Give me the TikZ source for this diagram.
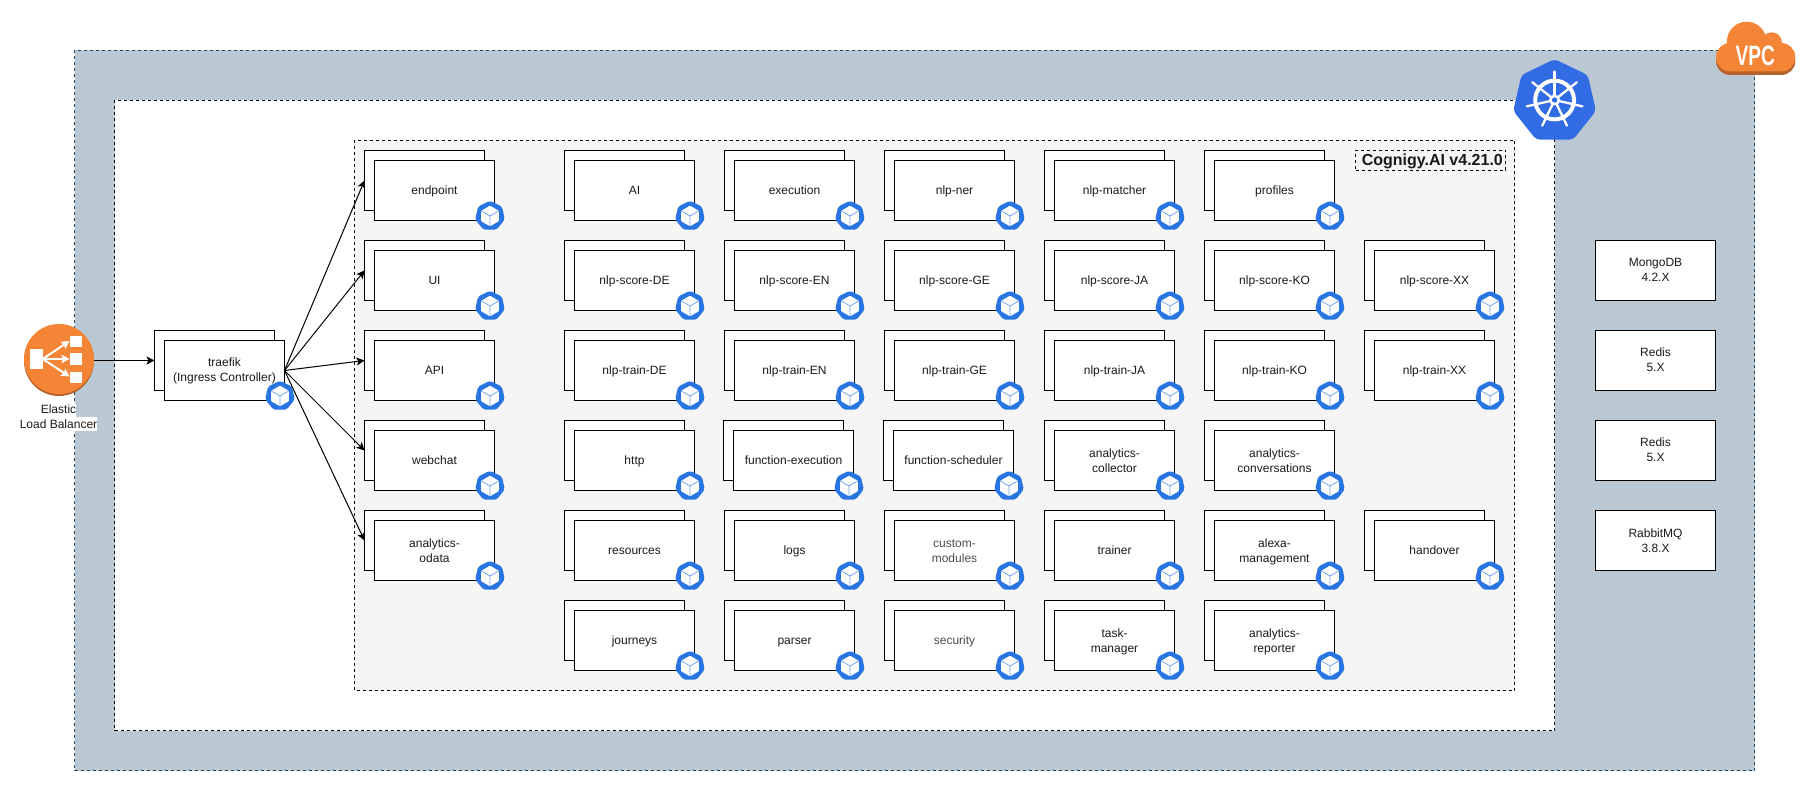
\documentclass[tikz,border=0pt]{standalone}
\usepackage{fontspec}
\usepackage{graphicx}
\setmainfont{Liberation Sans}
\usetikzlibrary{arrows.meta}
\definecolor{vpcfill}{HTML}{BAC8D3}
\definecolor{vpcline}{HTML}{23445D}
\definecolor{panel}{HTML}{F5F5F5}
\definecolor{awsorange}{HTML}{F58536}
\definecolor{awsdark}{HTML}{B7622A}
\definecolor{kubesmall}{HTML}{2875E2}
\definecolor{kubebig}{HTML}{326CE5}
\definecolor{ink}{HTML}{1A1A1A}
\definecolor{mutedink}{HTML}{4D4D4D}
\tikzset{
  stackbox/.style={draw=black,fill=white,line width=1pt,inner sep=0pt,outer sep=0pt,
    minimum width=120pt,minimum height=60pt,anchor=north west,align=center,
    font=\fontsize{12}{15}\selectfont,text=ink},
  zone/.style={line width=1pt,dash pattern=on 3pt off 3pt},
  conn/.style={draw=black,line width=1pt,-{Stealth[length=8pt,width=8pt,inset=2pt]}},
  elbarrow/.style={draw=white,line width=2pt,-{Stealth[length=8pt,width=8.5pt,inset=1.5pt]}},
  freelabel/.style={align=center,inner sep=0pt,font=\fontsize{12}{15}\selectfont,text=ink}
}
\newcommand\boxtext[1]{\rule{0pt}{10.5pt}#1\rule[-2.5pt]{0pt}{2.5pt}}
\newcommand\heptpath[1]{(90:#1pt) -- (141.43:#1pt) -- (192.86:#1pt) -- (244.29:#1pt) -- (295.71:#1pt) -- (347.14:#1pt) -- (38.57:#1pt) -- cycle}
\newcommand\kubeicon[2]{%
  \begin{scope}[shift={(#1,#2)}]
    \fill[kubesmall,rounded corners=2pt] \heptpath{15.2};
    \fill[white,rounded corners=0.8pt] (90:10.3pt) -- (150:10.3pt) -- (210:10.3pt) -- (270:10.3pt) -- (330:10.3pt) -- (30:10.3pt) -- cycle;
    \draw[kubesmall!70,line width=0.7pt] (150:10.3pt) -- (0,0) -- (30:10.3pt) (0,0) -- (270:10.3pt);
  \end{scope}}
\newcommand\svc[5]{%
  \node[stackbox] (#1b) at (#2,#3) {};
  \node[stackbox,text=#5] (#1) at (#2+10,#3+10) {\boxtext{#4}};
  \kubeicon{#2+125.5}{#3+65.5}}
\begin{document}
\begin{tikzpicture}[x=1pt,y=-1pt]
\useasboundingbox (0,0) rectangle (1816,791);
% containers
\fill[white] (0,0) rectangle (1816,791);
\filldraw[zone,fill=vpcfill,draw=vpcline] (74.5,50.5) rectangle (1754.5,770.5);
\filldraw[zone,fill=white,draw=black] (114.5,100.5) rectangle (1554.5,730.5);
\filldraw[zone,fill=panel,draw=black] (354.5,140.5) rectangle (1514.5,690.5);
\node[zone,draw=black,inner sep=0pt,outer sep=0pt,minimum width=150pt,minimum height=20pt,font=\bfseries\fontsize{16}{18}\selectfont,text=ink] (title) at (1430.5,160.5) {\hspace*{3.6pt}\rule{0pt}{13pt}Cognigy.AI v4.21.0\rule[-3.5pt]{0pt}{3.5pt}};
% services
\svc{endpoint}{364.5}{150.5}{endpoint}{ink}
\svc{ai}{564.5}{150.5}{AI}{ink}
\svc{execution}{724.5}{150.5}{execution}{ink}
\svc{nlpner}{884.5}{150.5}{nlp-ner}{ink}
\svc{nlpmatcher}{1044.5}{150.5}{nlp-matcher}{ink}
\svc{profiles}{1204.5}{150.5}{profiles}{ink}
\svc{ui}{364.5}{240.5}{UI}{ink}
\svc{scorede}{564.5}{240.5}{nlp-score-DE}{ink}
\svc{scoreen}{724.5}{240.5}{nlp-score-EN}{ink}
\svc{scorege}{884.5}{240.5}{nlp-score-GE}{ink}
\svc{scoreja}{1044.5}{240.5}{nlp-score-JA}{ink}
\svc{scoreko}{1204.5}{240.5}{nlp-score-KO}{ink}
\svc{scorexx}{1364.5}{240.5}{nlp-score-XX}{ink}
\svc{api}{364.5}{330.5}{API}{ink}
\svc{trainde}{564.5}{330.5}{nlp-train-DE}{ink}
\svc{trainen}{724.5}{330.5}{nlp-train-EN}{ink}
\svc{trainge}{884.5}{330.5}{nlp-train-GE}{ink}
\svc{trainja}{1044.5}{330.5}{nlp-train-JA}{ink}
\svc{trainko}{1204.5}{330.5}{nlp-train-KO}{ink}
\svc{trainxx}{1364.5}{330.5}{nlp-train-XX}{ink}
\svc{webchat}{364.5}{420.5}{webchat}{ink}
\svc{http}{564.5}{420.5}{http}{ink}
\svc{fnexec}{723.5}{420.5}{function-execution}{ink}
\svc{fnsched}{883.5}{420.5}{function-scheduler}{ink}
\svc{anacoll}{1044.5}{420.5}{analytics-\\collector}{ink}
\svc{anaconv}{1204.5}{420.5}{analytics-\\conversations}{ink}
\svc{odata}{364.5}{510.5}{analytics-\\odata}{ink}
\svc{resources}{564.5}{510.5}{resources}{ink}
\svc{logs}{724.5}{510.5}{logs}{ink}
\svc{custom}{884.5}{510.5}{custom-\\modules}{mutedink}
\svc{trainer}{1044.5}{510.5}{trainer}{ink}
\svc{alexa}{1204.5}{510.5}{alexa-\\management}{ink}
\svc{handover}{1364.5}{510.5}{handover}{ink}
\svc{journeys}{564.5}{600.5}{journeys}{ink}
\svc{parser}{724.5}{600.5}{parser}{ink}
\svc{security}{884.5}{600.5}{security}{mutedink}
\svc{taskmgr}{1044.5}{600.5}{task-\\manager}{ink}
\svc{anarep}{1204.5}{600.5}{analytics-\\reporter}{ink}
% traefik
\svc{traefik}{154.5}{330.5}{traefik\\(Ingress Controller)}{ink}
% data stores
\node[stackbox] (mongo) at (1595.5,240.5) {\boxtext{MongoDB\\4.2.X}};
\node[stackbox] (redisa) at (1595.5,330.5) {\boxtext{Redis\\5.X}};
\node[stackbox] (redisb) at (1595.5,420.5) {\boxtext{Redis\\5.X}};
\node[stackbox] (rabbit) at (1595.5,510.5) {\boxtext{RabbitMQ\\3.8.X}};
% connectors
\foreach \t in {endpoint,ui,api,webchat,odata}
  \draw[conn] (traefik.east) -- (\t b.west);
% ELB
\fill[awsdark] (59,361) circle (35pt);
\fill[awsorange] (59,359) circle (35pt);
\fill[white] (30,349) rectangle (42.7,369);
\fill[white] (70,335.7) rectangle (81.7,347.3);
\fill[white] (70,353.3) rectangle (81.7,365);
\fill[white] (70,371.7) rectangle (81.7,383.3);
\coordinate (elbfan) at (42.7,359);
\coordinate (elbA) at (69.5,341);
\coordinate (elbB) at (69.5,359);
\coordinate (elbC) at (69.5,376.5);
\draw[elbarrow] (elbfan) -- (elbA);
\draw[elbarrow] (elbfan) -- (elbB);
\draw[elbarrow] (elbfan) -- (elbC);
\coordinate (elbout) at (94,360.5);
\draw[conn] (elbout) -- (traefikb.west);
\fill[white] (40,404) rectangle (76,416.7);
\fill[white] (20,416.7) rectangle (97,431);
\node[freelabel] (elblabel) at (58.5,417) {\boxtext{Elastic\\Load Balancer}};
% Kubernetes
\begin{scope}[shift={(1554.6,101.5)}]
  \fill[kubebig,rounded corners=4pt] \heptpath{42.4};
\end{scope}
\begin{scope}[shift={(1554.6,100)}]
  \draw[white,line width=4pt] (0,0) circle (19.4pt);
  \foreach \a in {90,141.43,192.86,244.29,295.71,347.14,38.57}
    \draw[white,line width=2.3pt,line cap=round] (\a:3pt) -- (\a:28.5pt);
  \fill[white] (0,0) circle (5.5pt);
  \fill[kubebig] (0,0) circle (2.7pt);
\end{scope}
% VPC cloud
\begin{scope}[shift={(0,3.5)}]
  \fill[awsdark,rounded corners=14pt] (1716,44) rectangle (1795.3,71.5);
\end{scope}
\fill[awsorange,rounded corners=14pt] (1716,43) rectangle (1795.3,71.5);
\fill[awsorange] (1746.7,41.5) circle (19.8pt);
\fill[awsorange] (1771.7,42.5) circle (10.2pt);
\node[inner sep=0pt,text=white,font=\bfseries\fontsize{28}{28}\selectfont] (vpc) at (1755.3,55.5) {\scalebox{0.68}[1]{VPC}};
\end{tikzpicture}
\end{document}
